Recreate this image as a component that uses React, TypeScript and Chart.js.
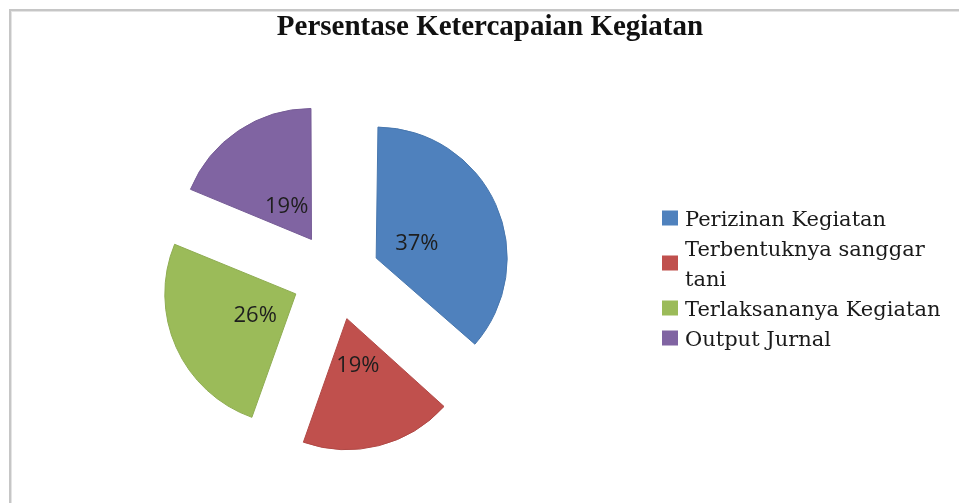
import { useEffect, useRef } from "react";
import { Chart, registerables } from "chart.js";

Chart.register(...registerables);

const titleText = "Persentase Ketercapaian Kegiatan";
const categories = [
  "Perizinan Kegiatan",
  "Terbentuknya sanggar tani",
  "Terlaksananya Kegiatan",
  "Output Jurnal",
];
const values = [37, 19, 26, 19];
const sliceColors = ["#4f81bd", "#c0504d", "#9bbb59", "#8064a2"];
const sliceBorders = ["#4877ae", "#b14946", "#8fad52", "#765c96"];

const RADIUS = 131;
const EXPLODE = 44; // visible shift in px
const OFFSET = EXPLODE * 4; // Chart.js divides arc offset by 4

function wrapText(ctx: CanvasRenderingContext2D, text: string, maxWidth: number): string[] {
  const words = text.split(" ");
  const lines: string[] = [];
  let cur = "";
  for (const w of words) {
    const test = cur ? cur + " " + w : w;
    if (cur && ctx.measureText(test).width > maxWidth) {
      lines.push(cur);
      cur = w;
    } else {
      cur = test;
    }
  }
  if (cur) lines.push(cur);
  return lines;
}

const decorPlugin = {
  id: "decor",
  beforeDraw(chart: any) {
    const ctx: CanvasRenderingContext2D = chart.ctx;
    ctx.save();
    ctx.fillStyle = "#ffffff";
    ctx.fillRect(0, 0, chart.width, chart.height);
    ctx.fillStyle = "#c6c6c6";
    ctx.fillRect(9, 9, chart.width - 9, 2);
    ctx.fillRect(9, 9, 2, chart.height - 9);
    ctx.fillStyle = "#e4e4e4";
    ctx.fillRect(11, 11, chart.width - 11, 1);
    ctx.fillRect(11, 11, 1, chart.height - 11);
    ctx.restore();
  },
  afterDatasetsUpdate(chart: any) {
    const meta = chart.getDatasetMeta(0);
    meta.data.forEach((arc: any) => {
      const off = (arc.options?.offset ?? OFFSET) / 4;
      const fix = 1 - Math.sin(Math.min(Math.PI, arc.circumference || 0));
      arc.outerRadius = RADIUS - off * fix;
    });
  },
  afterDraw(chart: any) {
    const ctx: CanvasRenderingContext2D = chart.ctx;
    ctx.save();

    // Title
    ctx.font = 'bold 29px "Liberation Serif"';
    ctx.fillStyle = "#111111";
    ctx.textAlign = "center";
    ctx.textBaseline = "alphabetic";
    ctx.fillText(titleText, 490, 35);

    // Data labels
    const total = values.reduce((a, b) => a + b, 0);
    const meta = chart.getDatasetMeta(0);
    ctx.font = '22px "Open Sans"';
    ctx.fillStyle = "#1e1e1e";
    ctx.textAlign = "center";
    ctx.textBaseline = "middle";
    meta.data.forEach((arc: any, i: number) => {
      const mid = (arc.startAngle + arc.endAngle) / 2;
      const d = EXPLODE + RADIUS * 0.34;
      const x = arc.x + Math.cos(mid) * d;
      const y = arc.y + Math.sin(mid) * d + 4;
      ctx.fillText(Math.round((values[i] / total) * 100) + "%", x, y);
    });

    // Legend
    ctx.font = '21px "DejaVu Serif"';
    ctx.textAlign = "left";
    ctx.textBaseline = "alphabetic";
    const lineH = 30;
    let top = 203;
    categories.forEach((label, i) => {
      const lines = wrapText(ctx, label, 280);
      const h = lines.length * lineH;
      const cy = top + h / 2;
      ctx.fillStyle = sliceColors[i];
      ctx.fillRect(662, cy - 7.5, 16, 15);
      ctx.fillStyle = "#1a1a1a";
      lines.forEach((ln, j) => {
        ctx.fillText(ln, 685, top + lineH / 2 + j * lineH + 7.5);
      });
      top += h;
    });

    ctx.restore();
  },
};

export default function App() {
  const ref = useRef<HTMLCanvasElement>(null);
  useEffect(() => {
    const chart = new Chart(ref.current as HTMLCanvasElement, {
      type: "pie",
      data: {
        labels: categories,
        datasets: [
          {
            data: values,
            backgroundColor: sliceColors,
            borderColor: sliceBorders,
            borderWidth: 1,
            offset: OFFSET,
          },
        ],
      },
      options: {
        responsive: false,
        animation: false,
        radius: RADIUS,
        events: [],
        layout: { padding: { left: 0, right: 287, top: 49, bottom: 0 } },
        plugins: {
          legend: { display: false },
          title: { display: false },
          tooltip: { enabled: false },
        },
      } as any,
      plugins: [decorPlugin as any],
    });
    return () => chart.destroy();
  }, []);
  return (
    <div style={{ position: "fixed", left: 0, top: 0, width: 959, height: 503, background: "#fff" }}>
      <canvas ref={ref} width={959} height={503} style={{ display: "block" }} />
    </div>
  );
}
